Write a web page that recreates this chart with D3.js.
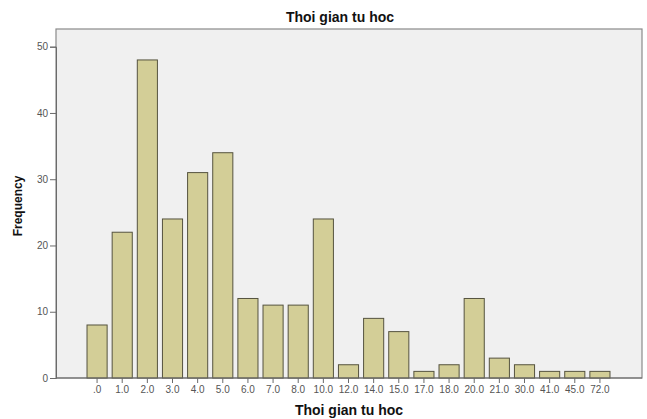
<!DOCTYPE html>
<html>
<head>
<meta charset="utf-8">
<script src="https://cdn.jsdelivr.net/npm/d3@7"></script>
<style>
  body { margin: 0; background: #fff; }
  text { font-family: Arial, "Liberation Sans", sans-serif; }
</style>
</head>
<body>
<div class="chart"></div>
<script>
// values
const categories = [".0","1.0","2.0","3.0","4.0","5.0","6.0","7.0","8.0","10.0","12.0",
                    "14.0","15.0","17.0","18.0","20.0","21.0","30.0","41.0","45.0","72.0"]
const frequency = [8,22,48,24,31,34,12,11,11,24,2,9,7,1,2,12,3,2,1,1,1]
const yTicks = [0,10,20,30,40,50]

const svg = d3.select(".chart").append("svg").attr("width",647).attr("height",419)
const frame = {left:56, right:642, top:29, bottom:378}

// plot background
svg.append("rect").attr("x",frame.left).attr("y",frame.top)
   .attr("width",frame.right-frame.left).attr("height",frame.bottom-frame.top)
   .attr("fill","#f0f0f0").attr("stroke","#8a8a8a").attr("stroke-width",1.2)

const x = d3.scaleBand().domain(categories).range([84.5,612.5]).paddingInner(0.2).paddingOuter(0.1)
const y = d3.scaleLinear().domain([0,50]).range([frame.bottom,46.7])

// bars
svg.selectAll(".bar").data(frequency).enter().append("rect").attr("class","bar")
   .attr("x",(d,i)=>x(categories[i])).attr("width",x.bandwidth())
   .attr("y",d=>y(d)).attr("height",d=>y(0)-y(d))
   .attr("fill","#d3ce97").attr("stroke","#55533f").attr("stroke-width",1)

// y axis
const yAxis = svg.append("g").attr("transform",`translate(${frame.left},0)`)
   .call(d3.axisLeft(y).tickValues(yTicks).tickSize(6).tickPadding(2))
yAxis.select(".domain").attr("stroke","#6a6a6a")
yAxis.selectAll(".tick line").attr("stroke","#6a6a6a")
yAxis.selectAll("text").attr("font-size",10).attr("fill","#555")

// x axis
const xAxis = svg.append("g").attr("transform",`translate(0,${frame.bottom})`)
   .call(d3.axisBottom(x).tickSize(5).tickPadding(3))
xAxis.select(".domain").remove()
svg.append("line").attr("x1",frame.left).attr("x2",frame.right).attr("y1",frame.bottom).attr("y2",frame.bottom)
   .attr("stroke","#6a6a6a").attr("stroke-width",1.2)
xAxis.selectAll(".tick line").attr("stroke","#6a6a6a")
xAxis.selectAll("text").attr("font-size",10).attr("fill","#555")

// titles
svg.append("text").attr("x",340).attr("y",22).attr("text-anchor","middle")
   .attr("font-size",14).attr("font-weight","bold").attr("fill","#111").text("Thoi gian tu hoc")
svg.append("text").attr("x",349).attr("y",415).attr("text-anchor","middle")
   .attr("font-size",14).attr("font-weight","bold").attr("fill","#111").text("Thoi gian tu hoc")
svg.append("text").attr("transform","translate(22,206) rotate(-90)").attr("text-anchor","middle")
   .attr("font-size",12).attr("font-weight","bold").attr("fill","#111").text("Frequency")
</script>
</body>
</html>
